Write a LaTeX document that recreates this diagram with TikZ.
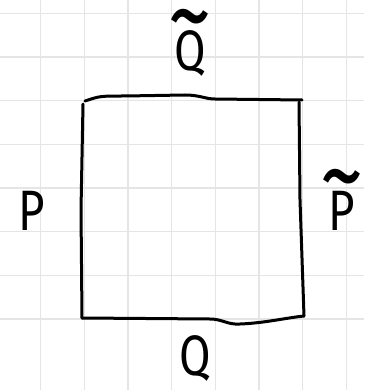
\documentclass[tikz,border=0pt]{standalone}
\usepackage{fontspec}
\newfontfamily\hand[FakeStretch=0.8]{Fira Sans}
\newcommand{\tildeover}[1]{\ooalign{#1\cr\hidewidth\raisebox{19pt}{\fontsize{110}{110}\selectfont\textasciitilde}\hidewidth\cr}}
\begin{document}
\begin{tikzpicture}[x=1pt,y=-1pt,
  gridline/.style={draw=black!10,line width=1.3pt},
  stroke/.style={draw=black,line width=3pt,line cap=round,line join=round},
  letter/.style={font=\hand\fontsize{57}{60}\selectfont,inner sep=0pt,anchor=base}]
\useasboundingbox[fill=white] (0,0) rectangle (364,390);
\foreach \i in {-1,...,7}{
  \draw[gridline] ({40.7+\i*43.65},0) -- ({40.7+\i*43.65},390);
  \draw[gridline] (0,{13.3+\i*43.65}) -- (364,{13.3+\i*43.65});
}
\coordinate (tl) at (85,101);
\coordinate (tr) at (302,100);
\coordinate (bl) at (82,318);
\coordinate (br) at (304,316);
\draw[stroke] (tl) .. controls (100,96) .. (125,96) -- (185,95)
  .. controls (200,95) and (205,99) .. (215,99) -- (tr);
\draw[stroke] (83,104) -- (81,210) -- (bl);
\draw[stroke] (299,102) -- (300,200) -- (br);
\draw[stroke] (bl) -- (210,319) .. controls (222,319) and (228,325) .. (240,324)
  .. controls (265,323) and (285,318) .. (br);
\node[letter] (qt) at (190,71) {\tildeover{Q}};
\node[letter] (p) at (32,230) {P};
\node[letter] (pt) at (342,230) {\tildeover{P}};
\node[letter] (q) at (195,375) {Q};
\end{tikzpicture}
\end{document}
